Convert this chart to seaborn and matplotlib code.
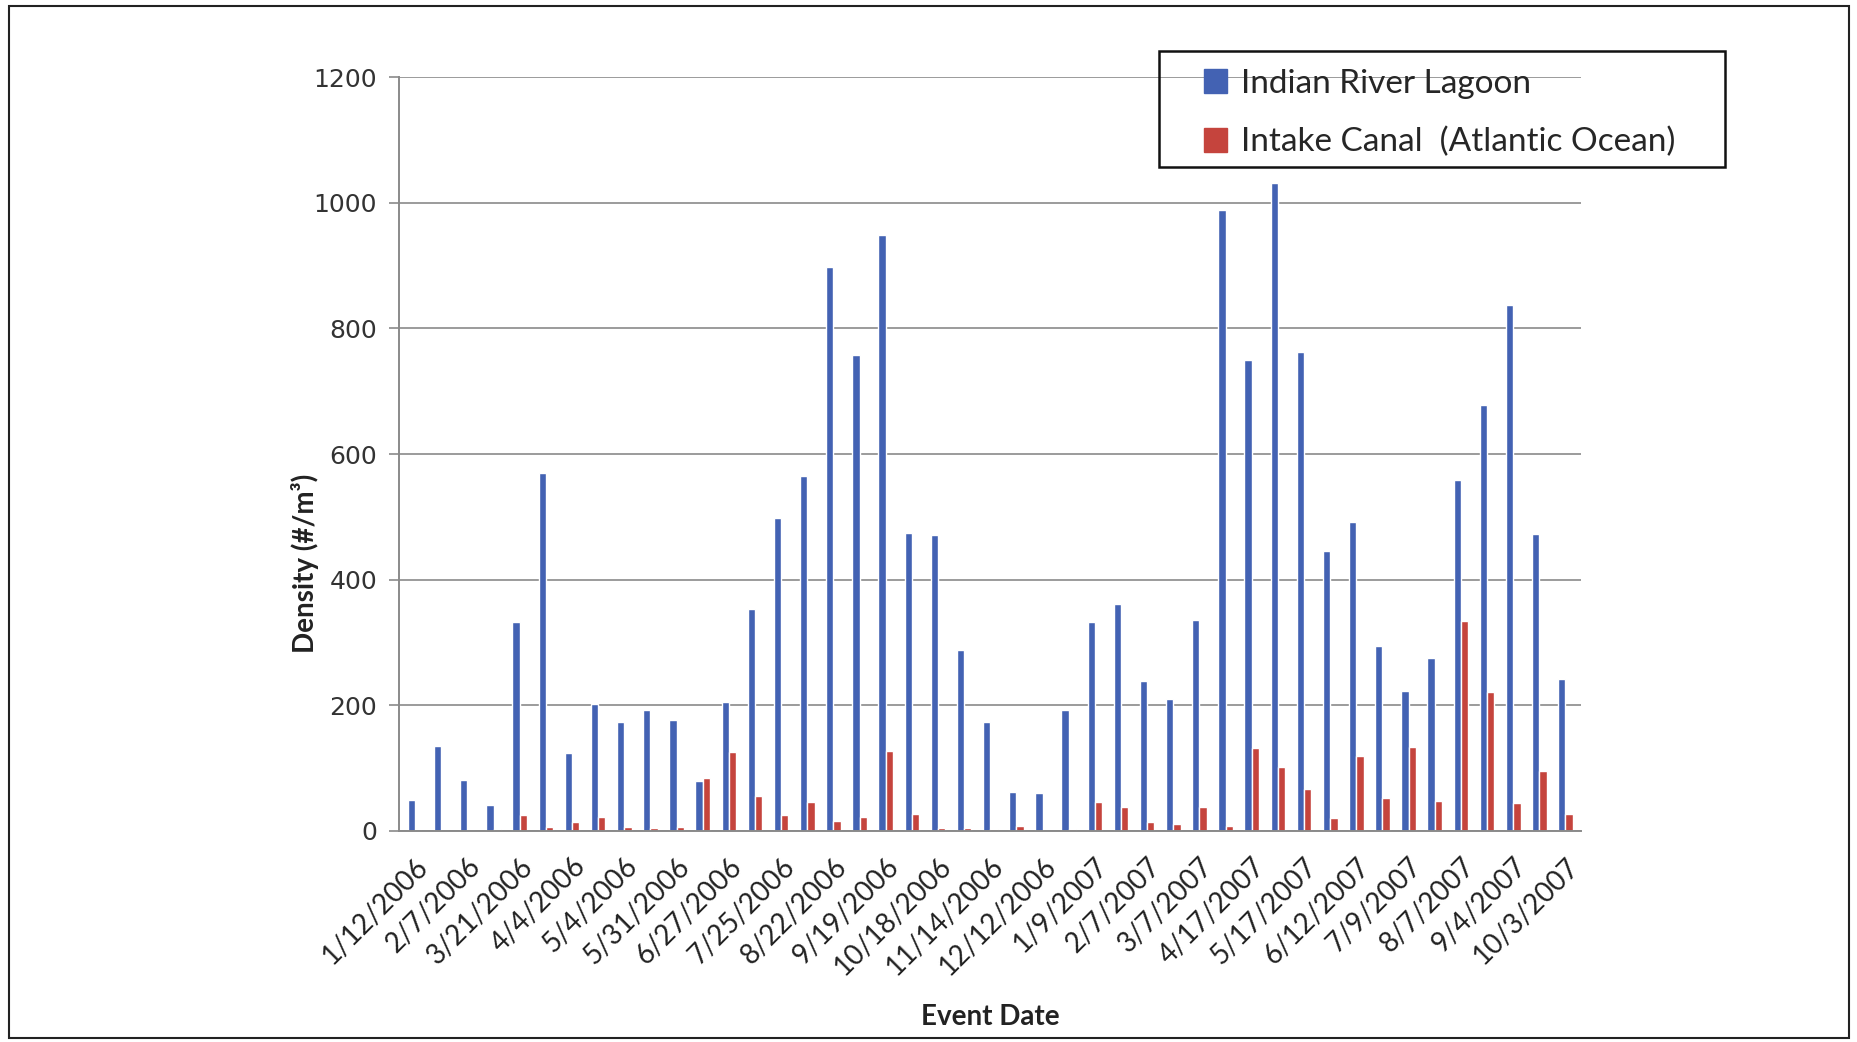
import numpy as np
import pandas as pd
import seaborn as sns
import matplotlib.pyplot as plt
from matplotlib.patches import Rectangle

# every other event date is labelled on the x axis
shown_dates = ['1/12/2006', '2/7/2006', '3/21/2006', '4/4/2006', '5/4/2006', '5/31/2006',
               '6/27/2006', '7/25/2006', '8/22/2006', '9/19/2006', '10/18/2006', '11/14/2006',
               '12/12/2006', '1/9/2007', '2/7/2007', '3/7/2007', '4/17/2007', '5/17/2007',
               '6/12/2007', '7/9/2007', '8/7/2007', '9/4/2007', '10/3/2007']

lagoon = [49, 136, 81, 42, 333, 570, 124, 202, 174, 193, 176, 80, 205, 353, 499, 565,
          897, 758, 948, 475, 471, 288, 173, 62, 60, 193, 333, 362, 239, 210, 336, 988,
          749, 1032, 762, 446, 492, 295, 223, 275, 559, 678, 838, 473, 242]
canal = [0, 0, 0, 3, 26, 6, 14, 23, 6, 4, 6, 85, 125, 56, 26, 46,
         16, 22, 128, 27, 5, 5, 3, 8, 0, 3, 46, 38, 14, 11, 38, 8,
         132, 102, 67, 20, 120, 52, 133, 47, 335, 222, 45, 96, 27]

series_names = ['Indian River Lagoon', 'Intake Canal  (Atlantic Ocean)']
colors = ['#4362B3', '#C5443D']

events = np.arange(len(lagoon))
df = pd.DataFrame({
    'event': np.concatenate([events, events]),
    'density': lagoon + canal,
    'site': [series_names[0]] * len(lagoon) + [series_names[1]] * len(canal),
})

sns.set_style('white')
plt.rcParams['font.family'] = ['Lato', 'DejaVu Sans']

fig = plt.figure(figsize=(18.58, 10.42), dpi=100)
ax = fig.add_axes([0.215, 0.2025, 0.636, 0.7235])

sns.barplot(data=df, x='event', y='density', hue='site', palette=colors,
            width=0.56, gap=0, saturation=1, ax=ax, legend=True)

ax.set_ylim(0, 1200)
ax.set_xlim(-0.6, len(lagoon) - 0.4)
ax.set_yticks(range(0, 1201, 200))
ax.set_yticklabels([str(v) for v in range(0, 1201, 200)], family='DejaVu Sans',
                   fontsize=18, color='#333333')
ax.yaxis.grid(True, color='#8a8a8a', linewidth=1.2)
ax.set_axisbelow(True)
ax.tick_params(axis='y', length=7, width=1.2, color='#8a8a8a', left=True, pad=9)
ax.tick_params(axis='x', length=0, pad=16)

ax.set_xticks(events[::2])
ax.set_xticklabels(shown_dates, rotation=45, ha='right', rotation_mode='anchor',
                   fontsize=20, color='#222222')

for s in ['top', 'right']:
    ax.spines[s].set_visible(False)
for s in ['left', 'bottom']:
    ax.spines[s].set_color('#8a8a8a')
    ax.spines[s].set_linewidth(1.4)

ax.set_xlabel('Event Date', fontsize=20, fontweight='bold', color='#222222')
ax.xaxis.set_label_coords(0.5, -0.23)
ax.set_ylabel('Density (#/m³)', fontsize=20, fontweight='bold', color='#222222')
ax.yaxis.set_label_coords(-0.068, 0.355)

ax.get_legend().remove()
handles = [Rectangle((0, 0), 1, 1, color=c) for c in colors]
fig.legend(handles, series_names, loc='upper left', bbox_to_anchor=(0.648, 0.934),
           fontsize=24, frameon=False, handlelength=0.7, handleheight=0.7,
           handletextpad=0.4, borderpad=0, labelspacing=0.85, borderaxespad=0)
# legend box
fig.patches.append(Rectangle((0.624, 0.840), 0.3045, 0.111, transform=fig.transFigure,
                             fill=False, edgecolor='#111111', linewidth=1.8))

# outer border of the figure
fig.patches.append(Rectangle((0.005, 0.004), 0.99, 0.99, transform=fig.transFigure,
                             fill=False, edgecolor='#222222', linewidth=1.5))

plt.savefig('out.png', dpi=100)
